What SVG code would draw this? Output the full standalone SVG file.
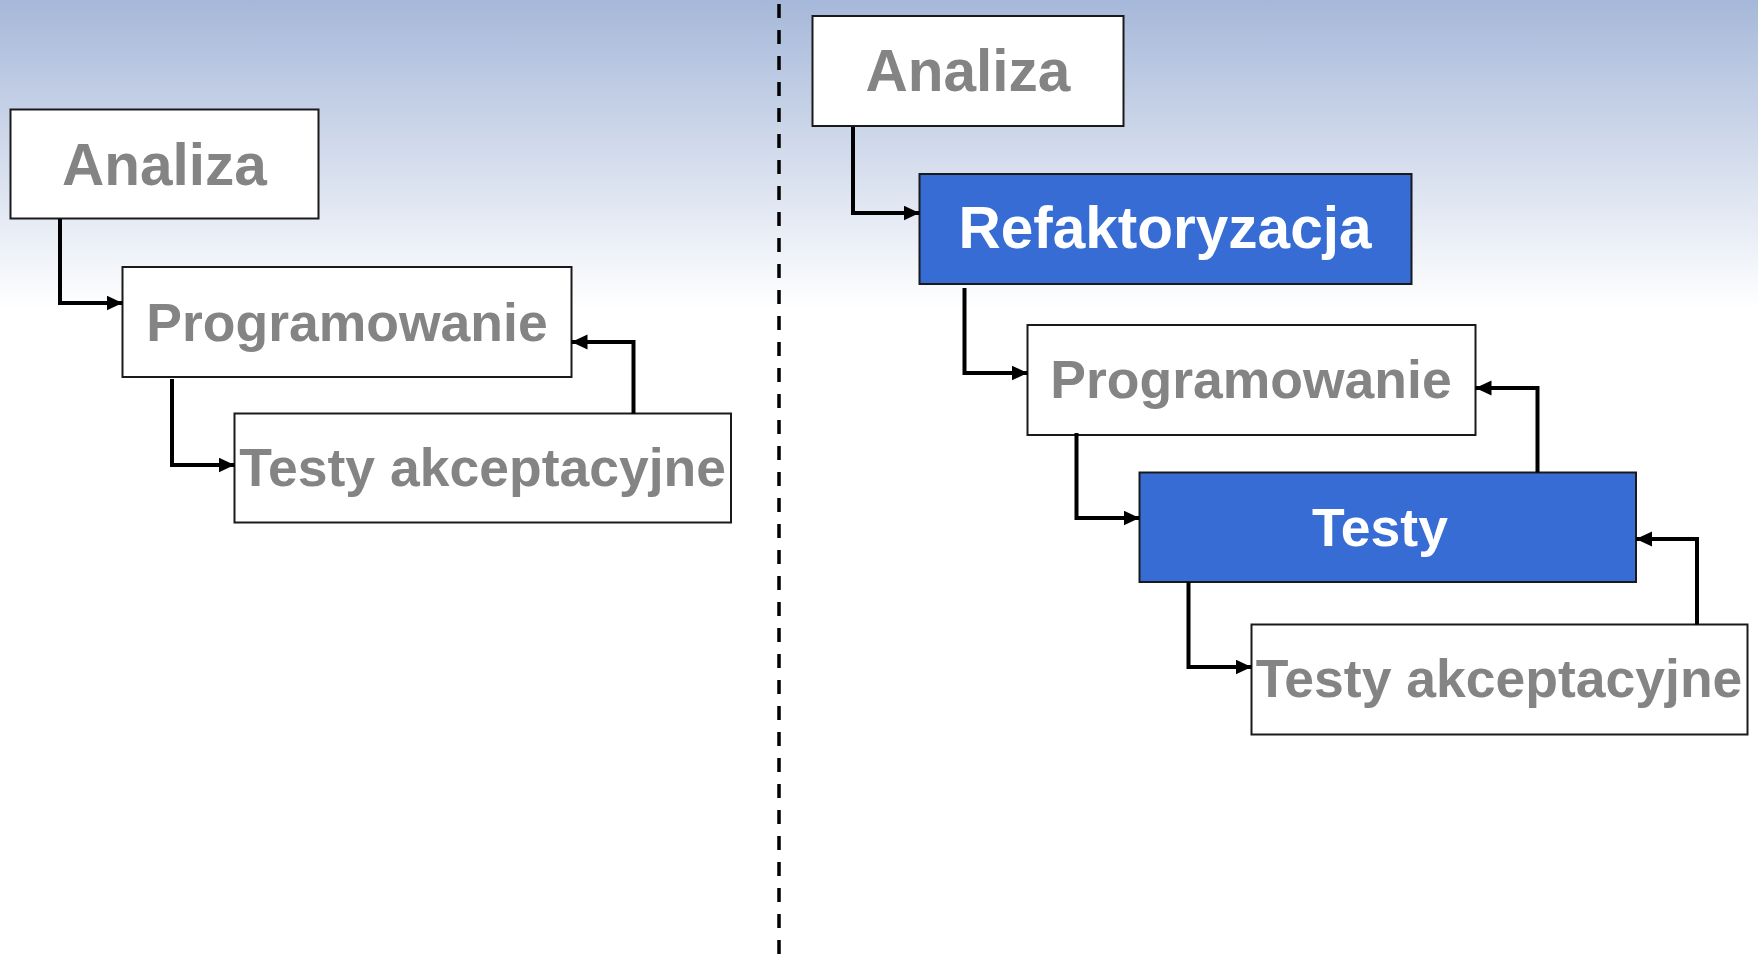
<svg xmlns="http://www.w3.org/2000/svg" width="1758" height="966" viewBox="0 0 1758 966">
<defs>
<linearGradient id="bg" x1="0" y1="0" x2="0" y2="1">
<stop offset="0" stop-color="#a6b8d9"/>
<stop offset="0.32" stop-color="#ffffff"/>
<stop offset="1" stop-color="#ffffff"/>
</linearGradient>
<marker id="ah" markerUnits="userSpaceOnUse" markerWidth="18" markerHeight="16" refX="16" refY="7.5" orient="auto">
<path d="M0,0 L16,7.5 L0,15 Z" fill="#000"/>
</marker>
<style>
.box{fill:#fff;stroke:#1a1a1a;stroke-width:2}
.blue{fill:#366cd4;stroke:#1a1a1a;stroke-width:2}
.t{font-family:"Liberation Sans",Arial,sans-serif;font-weight:bold;fill:#848484;text-anchor:middle}
.tw{fill:#ffffff}
.big{font-size:58.5px}
.mid{font-size:53.5px}
.conn path{fill:none;stroke:#000;stroke-width:4;marker-end:url(#ah)}
</style>
</defs>
<rect x="0" y="0" width="1758" height="966" fill="url(#bg)"/>
<line id="divider" x1="779" y1="4" x2="779" y2="966" stroke="#000" stroke-width="3.5" stroke-dasharray="14 12"/>

<g id="l-analiza"><rect class="box" x="10.5" y="109.5" width="308" height="109"/><text class="t big" x="164.5" y="185">Analiza</text></g>
<g id="l-programowanie"><rect class="box" x="122.5" y="267" width="449" height="110"/><text class="t mid" x="347" y="341">Programowanie</text></g>
<g id="l-testy-akc"><rect class="box" x="234.5" y="413.5" width="496.5" height="109"/><text class="t mid" x="482.7" y="486">Testy akceptacyjne</text></g>

<g id="r-analiza"><rect class="box" x="812.5" y="16" width="311" height="110"/><text class="t big" x="968" y="91">Analiza</text></g>
<g id="r-refaktoryzacja"><rect class="blue" x="919.5" y="174" width="492" height="110"/><text class="t tw big" x="1165" y="248">Refaktoryzacja</text></g>
<g id="r-programowanie"><rect class="box" x="1027.5" y="325" width="448" height="110"/><text class="t mid" x="1251" y="398">Programowanie</text></g>
<g id="r-testy"><rect class="blue" x="1139.5" y="472.5" width="496.5" height="109.5"/><text class="t tw mid" x="1380" y="546">Testy</text></g>
<g id="r-testy-akc"><rect class="box" x="1251.5" y="624.5" width="496" height="110"/><text class="t mid" x="1499" y="697">Testy akceptacyjne</text></g>

<g id="connectors" class="conn">
<path d="M60,219 V303 H122.5"/>
<path d="M172,379 V465 H234.5"/>
<path d="M633.5,413.5 V342 H571.5"/>
<path d="M853,127 V213 H919.5"/>
<path d="M964.5,288 V373 H1027.5"/>
<path d="M1076.5,433 V518 H1139.5"/>
<path d="M1537.5,472.5 V388 H1475.5"/>
<path d="M1188.5,582 V667 H1251.5"/>
<path d="M1697,624.5 V539 H1636"/>
</g>
</svg>
